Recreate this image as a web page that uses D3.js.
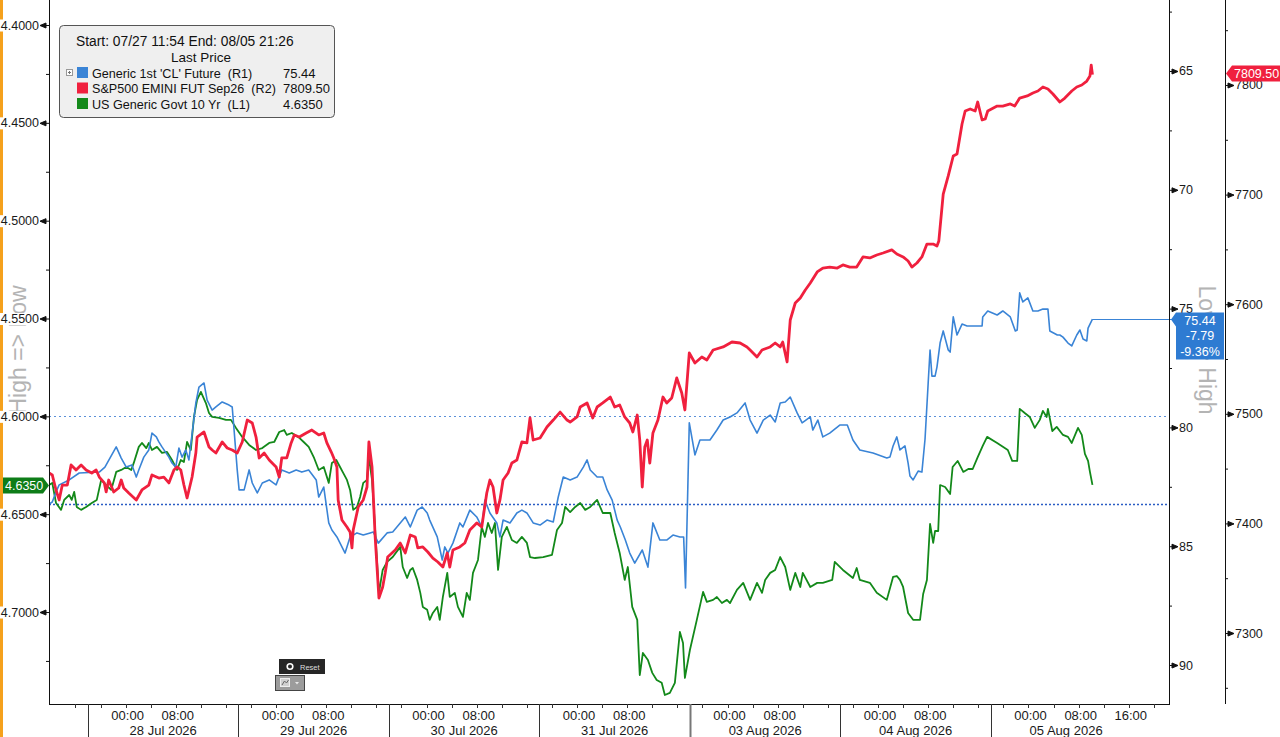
<!DOCTYPE html>
<html>
<head>
<meta charset="utf-8">
<script src="https://cdn.jsdelivr.net/npm/d3@7"></script>
<style>
  body { margin: 0; background: #fff; }
  svg { display: block; }
  text { font-family: "Liberation Sans", Arial, sans-serif; }
</style>
</head>
<body>
<div id="chart"></div>
<script>
// ---- data (x = trading hours since the 28 Jul session open, 07/27 18:00) ----
var sessionLabels = ["28 Jul 2026", "29 Jul 2026", "30 Jul 2026", "31 Jul 2026", "03 Aug 2026", "04 Aug 2026", "05 Aug 2026"];
var timeHours = [6, 14, 22];
var timeLabels = ["00:00", "08:00", "16:00"];

var l1Ticks = [4.40, 4.45, 4.50, 4.55, 4.60, 4.65, 4.70];
var l1Minor = [4.425, 4.475, 4.525, 4.575, 4.625, 4.675, 4.725];
var r1Ticks = [65, 70, 75, 80, 85, 90];
var r1Minor = [62.5, 67.5, 72.5, 77.5, 82.5, 87.5];
var r2Ticks = [7300, 7400, 7500, 7600, 7700, 7800];
var r2Minor = [7250, 7350, 7450, 7550, 7650, 7750, 7850];

// reference levels on the CL axis (start price and a user line)
var clLevels = [79.52, 83.23];

// Generic 1st 'CL' Future (R1)
var clSeries = [[-6.2,83.23],[-5.7,83.14],[-5.1,82.72],[-4.6,82.42],[-3.0,82.21],[-1.4,81.92],[1.8,81.88],[2.7,81.67],[4.5,80.82],[5.3,81.29],[6.1,81.67],[7.0,81.58],[7.7,82.09],[8.1,81.79],[8.9,81.25],[9.7,80.95],[10.2,80.24],[10.9,80.40],[11.3,80.61],[11.8,80.82],[12.9,81.25],[13.4,81.50],[14.0,81.67],[14.5,80.87],[15.0,81.25],[15.6,80.95],[16.1,81.37],[17.2,78.97],[17.7,78.30],[18.5,78.13],[19.0,78.85],[19.8,79.27],[20.4,79.14],[21.4,78.93],[22.5,79.06],[23.0,79.14],[23.3,80.11],[23.8,81.79],[24.1,82.63],[24.9,82.63],[25.7,81.79],[26.2,82.34],[27.0,82.76],[27.8,82.34],[28.9,82.21],[30.0,82.42],[30.9,81.79],[32.1,81.92],[33.2,81.79],[34.1,81.88],[35.2,81.79],[36.4,82.21],[36.8,82.93],[37.6,82.51],[38.4,84.02],[38.9,84.32],[39.7,84.61],[41.0,85.29],[41.8,84.61],[42.9,84.44],[43.9,84.53],[45.0,84.44],[45.5,84.40],[46.3,84.87],[47.7,84.44],[48.6,84.40],[49.8,84.02],[50.6,83.77],[51.4,84.19],[52.5,83.48],[53.3,83.35],[54.1,83.60],[54.5,83.90],[55.7,84.61],[56.5,85.58],[56.9,85.03],[57.4,85.29],[58.2,84.87],[59.3,84.02],[59.8,84.19],[60.9,83.48],[62.0,83.77],[62.8,84.19],[63.3,83.06],[64.1,83.60],[65.2,84.02],[65.7,84.61],[66.2,83.90],[67.3,84.02],[68.4,83.60],[69.2,83.48],[70.0,83.60],[71.0,84.02],[72.1,84.11],[73.2,83.90],[74.2,83.98],[75.0,82.93],[75.8,82.09],[76.9,82.21],[78.0,82.09],[79.0,81.67],[79.6,81.37],[80.1,81.79],[81.2,82.09],[82.1,82.09],[82.8,82.63],[83.6,83.06],[84.4,83.90],[84.9,84.19],[85.7,84.74],[86.4,85.29],[87.2,85.71],[88.4,85.16],[89.3,85.88],[90.1,84.02],[91.2,84.74],[92.3,84.74],[93.3,84.53],[94.4,84.61],[95.0,84.61],[95.3,86.76],[95.9,79.81],[96.8,81.16],[97.6,80.53],[99.2,80.53],[100.3,80.11],[101.3,79.69],[102.4,79.56],[103.5,79.39],[104.8,78.97],[105.6,79.69],[106.7,80.24],[107.7,79.69],[108.8,79.48],[109.6,79.77],[110.4,78.97],[111.2,78.93],[112.0,78.72],[113.1,79.39],[113.9,79.81],[115.2,79.56],[115.6,80.11],[116.4,79.69],[117.2,80.40],[118.3,80.24],[119.9,79.90],[121.1,79.90],[122.0,80.53],[123.1,80.95],[125.2,81.08],[127.4,81.29],[127.9,81.25],[128.4,80.78],[129.0,80.40],[129.5,80.95],[130.3,80.78],[130.8,81.50],[131.1,82.05],[131.6,82.21],[132.4,81.84],[133.0,81.88],[133.5,80.49],[134.0,78.13],[134.3,76.74],[134.6,77.84],[135.1,77.84],[135.4,77.46],[135.9,76.45],[136.4,75.94],[137.2,76.74],[137.5,76.83],[138.0,75.35],[138.6,76.11],[139.4,75.65],[140.2,75.73],[140.7,75.73],[142.6,75.73],[142.7,75.35],[143.5,75.10],[145.0,75.27],[145.9,75.10],[147.1,75.35],[147.9,75.94],[148.2,75.90],[148.6,74.34],[149.1,74.72],[149.9,74.55],[150.7,75.10],[151.5,75.10],[152.3,75.02],[153.1,75.02],[153.4,75.94],[154.6,76.11],[155.0,76.11],[155.5,76.20],[156.3,76.45],[156.9,76.57],[157.7,76.11],[158.2,75.90],[158.7,76.28],[159.3,76.36],[159.5,75.82],[160.2,75.44]];

// S&P500 EMINI FUT Sep26 (R2)
var esSeries = [[-6.2,7446.0],[-5.7,7444.2],[-5.1,7430.5],[-4.6,7421.4],[-4.1,7435.0],[-3.3,7435.0],[-2.7,7453.3],[-1.9,7448.7],[-1.1,7453.3],[-0.3,7448.7],[0.6,7446.0],[1.3,7448.7],[1.8,7442.3],[2.6,7436.9],[2.9,7428.7],[3.3,7439.6],[4.1,7428.7],[4.9,7432.3],[5.3,7439.6],[5.7,7432.3],[6.5,7427.7],[7.7,7421.4],[8.6,7430.5],[9.7,7435.0],[10.2,7444.2],[11.3,7441.4],[12.1,7442.3],[12.9,7436.9],[13.7,7448.7],[14.2,7451.5],[14.8,7448.7],[15.3,7435.0],[15.8,7423.2],[16.6,7442.3],[17.2,7464.2],[17.4,7478.8],[18.5,7483.4],[19.3,7469.7],[19.8,7467.0],[20.4,7464.2],[21.4,7474.3],[22.2,7468.8],[23.0,7467.0],[23.8,7464.2],[24.6,7474.3],[25.4,7494.3],[26.2,7491.6],[26.8,7478.8],[27.3,7459.7],[28.1,7464.2],[28.9,7457.8],[30.0,7451.5],[30.5,7442.3],[30.9,7459.7],[31.7,7459.7],[32.4,7473.4],[32.9,7480.7],[33.7,7478.8],[34.8,7482.5],[35.7,7485.2],[36.8,7480.7],[37.6,7482.5],[38.1,7473.4],[38.8,7465.1],[39.2,7459.7],[39.7,7451.5],[39.9,7421.4],[40.5,7403.1],[41.3,7396.7],[41.8,7392.2],[42.1,7377.6],[42.3,7394.0],[43.1,7415.0],[43.9,7421.4],[44.5,7433.2],[44.8,7474.3],[45.3,7451.5],[45.8,7387.6],[46.4,7331.9],[47.0,7342.0],[47.4,7354.7],[47.8,7369.3],[49.0,7375.7],[49.8,7382.1],[50.6,7373.0],[51.4,7389.4],[52.2,7387.6],[52.6,7377.6],[53.4,7378.5],[54.2,7373.9],[55.0,7368.4],[55.8,7364.8],[56.6,7360.2],[57.3,7373.0],[57.7,7360.2],[58.2,7375.7],[59.3,7378.5],[60.1,7382.1],[60.9,7394.0],[62.0,7400.4],[62.8,7396.7],[63.6,7427.7],[64.1,7439.6],[64.6,7433.2],[65.2,7409.5],[65.7,7421.4],[66.2,7439.6],[67.0,7446.0],[67.6,7455.1],[68.4,7457.8],[69.2,7474.3],[70.0,7473.4],[70.5,7496.2],[71.0,7476.1],[72.1,7477.9],[73.2,7488.0],[74.2,7494.3],[75.3,7501.6],[76.4,7494.3],[76.9,7492.5],[78.0,7497.1],[78.5,7506.2],[79.6,7509.9],[80.5,7496.2],[81.2,7506.2],[82.1,7509.9],[83.3,7515.3],[84.0,7506.2],[84.8,7508.0],[85.6,7497.1],[86.4,7491.6],[86.9,7483.4],[87.6,7498.9],[88.0,7476.1],[88.4,7433.2],[88.8,7469.7],[89.2,7476.1],[89.6,7455.1],[90.1,7482.5],[90.9,7494.3],[91.7,7515.3],[92.3,7509.9],[93.1,7514.4],[93.9,7532.7],[94.7,7519.0],[95.2,7503.5],[95.9,7555.5],[96.8,7546.4],[97.9,7551.8],[98.7,7549.1],[99.7,7558.2],[101.3,7561.0],[102.7,7565.5],[104.0,7564.6],[105.1,7561.0],[105.6,7558.2],[106.7,7551.8],[107.5,7558.2],[108.8,7561.0],[109.6,7564.6],[110.4,7561.0],[110.8,7565.5],[111.5,7547.3],[112.0,7585.6],[112.8,7601.1],[113.6,7605.7],[114.4,7613.0],[115.2,7619.3],[116.3,7629.4],[117.2,7633.0],[118.3,7633.9],[119.5,7633.0],[120.4,7635.8],[121.5,7633.9],[122.6,7633.9],[123.6,7643.1],[124.7,7642.2],[125.8,7644.9],[126.8,7646.7],[128.2,7649.5],[129.0,7645.8],[130.0,7643.1],[130.8,7639.4],[131.4,7633.9],[132.2,7637.6],[133.0,7643.1],[133.8,7654.9],[134.8,7654.9],[135.4,7653.1],[135.7,7657.7],[136.4,7700.5],[137.2,7717.0],[138.0,7735.2],[138.6,7737.0],[139.4,7764.4],[139.9,7776.3],[140.7,7778.1],[141.5,7776.3],[141.9,7784.5],[142.6,7768.1],[143.1,7769.0],[143.5,7776.3],[145.0,7780.8],[145.9,7780.8],[147.1,7782.7],[147.8,7780.8],[148.6,7788.1],[149.8,7790.0],[150.7,7792.7],[151.5,7794.5],[152.3,7798.2],[153.1,7796.4],[153.9,7791.8],[155.0,7784.5],[155.8,7788.1],[156.9,7794.5],[157.7,7798.2],[158.5,7800.0],[159.3,7803.6],[159.8,7808.2],[160.0,7818.2],[160.2,7809.5]];

// US Generic Govt 10 Yr (L1)
var ustSeries = [[-6.2,4.6351],[-5.7,4.6340],[-5.1,4.6443],[-4.3,4.6478],[-3.8,4.6427],[-3.0,4.6402],[-2.6,4.6427],[-2.2,4.6386],[-1.8,4.6463],[-1.1,4.6478],[-0.3,4.6463],[0.6,4.6443],[1.4,4.6427],[2.1,4.6325],[2.9,4.6351],[3.7,4.6376],[4.5,4.6284],[5.3,4.6274],[6.1,4.6259],[6.9,4.6274],[7.3,4.6238],[8.1,4.6156],[8.6,4.6136],[9.3,4.6162],[9.7,4.6136],[10.2,4.6172],[11.0,4.6156],[11.8,4.6187],[12.6,4.6182],[13.4,4.6223],[14.2,4.6274],[14.8,4.6223],[15.3,4.6233],[15.8,4.6131],[16.4,4.6172],[16.9,4.6003],[17.4,4.5916],[18.0,4.5875],[18.8,4.5932],[19.3,4.5983],[19.8,4.6003],[20.9,4.6008],[22.0,4.6018],[22.8,4.6018],[23.6,4.6059],[24.6,4.6105],[25.7,4.6146],[26.8,4.6172],[27.8,4.6162],[28.9,4.6136],[29.7,4.6131],[30.5,4.6080],[31.3,4.6070],[31.7,4.6095],[32.5,4.6085],[33.7,4.6110],[34.4,4.6131],[35.2,4.6156],[36.0,4.6208],[36.8,4.6274],[37.6,4.6259],[38.4,4.6340],[38.9,4.6238],[39.6,4.6223],[40.2,4.6259],[40.7,4.6289],[41.3,4.6325],[41.8,4.6376],[42.3,4.6478],[42.9,4.6463],[43.4,4.6412],[43.9,4.6340],[44.5,4.6325],[44.8,4.6208],[45.3,4.6325],[45.8,4.6581],[46.4,4.6902],[47.0,4.6785],[47.7,4.6744],[48.6,4.6719],[49.8,4.6667],[50.2,4.6770],[50.9,4.6826],[51.4,4.6785],[51.8,4.6775],[52.5,4.6836],[53.0,4.6902],[53.4,4.6974],[54.1,4.6989],[54.5,4.7040],[55.0,4.7005],[55.7,4.6974],[56.1,4.7040],[56.6,4.6923],[57.3,4.6800],[57.7,4.6923],[58.5,4.6902],[59.0,4.6974],[59.8,4.7025],[60.4,4.6902],[60.9,4.6938],[61.4,4.6800],[62.2,4.6734],[62.8,4.6565],[63.3,4.6616],[63.8,4.6545],[64.4,4.6596],[64.9,4.6545],[65.4,4.6785],[66.0,4.6616],[66.8,4.6565],[67.6,4.6632],[68.4,4.6647],[69.2,4.6616],[70.0,4.6647],[70.5,4.6719],[71.3,4.6724],[72.6,4.6719],[74.0,4.6708],[74.8,4.6581],[75.6,4.6545],[76.1,4.6463],[76.9,4.6489],[77.7,4.6463],[78.5,4.6443],[79.3,4.6478],[80.1,4.6463],[81.2,4.6427],[82.1,4.6494],[83.3,4.6494],[84.0,4.6596],[84.8,4.6698],[85.6,4.6836],[86.1,4.6770],[86.8,4.6974],[87.6,4.7040],[88.0,4.7322],[88.5,4.7209],[89.3,4.7245],[90.0,4.7311],[90.7,4.7347],[91.5,4.7362],[92.0,4.7424],[92.8,4.7413],[93.6,4.7362],[94.4,4.7102],[94.9,4.7158],[95.2,4.7337],[96.0,4.7194],[97.1,4.7040],[98.1,4.6897],[98.7,4.6948],[99.7,4.6938],[100.3,4.6923],[101.1,4.6954],[101.9,4.6938],[102.4,4.6954],[103.5,4.6887],[104.5,4.6851],[105.6,4.6938],[106.7,4.6851],[107.5,4.6902],[108.0,4.6836],[108.8,4.6800],[109.6,4.6785],[110.4,4.6719],[111.2,4.6770],[112.0,4.6887],[112.8,4.6800],[113.6,4.6872],[114.0,4.6800],[115.2,4.6872],[116.3,4.6851],[117.2,4.6851],[118.7,4.6836],[119.1,4.6744],[120.4,4.6785],[122.0,4.6826],[122.6,4.6775],[123.1,4.6836],[124.7,4.6851],[125.8,4.6902],[127.4,4.6938],[128.4,4.6821],[129.0,4.6816],[129.5,4.6836],[130.0,4.6872],[130.8,4.7005],[131.6,4.7040],[132.7,4.7040],[133.2,4.6908],[133.8,4.6836],[134.3,4.6550],[134.8,4.6647],[135.1,4.6586],[135.6,4.6586],[135.9,4.6351],[136.7,4.6361],[137.5,4.6397],[137.9,4.6259],[138.7,4.6228],[139.6,4.6284],[140.4,4.6269],[141.1,4.6269],[141.9,4.6208],[142.7,4.6151],[143.4,4.6105],[145.0,4.6136],[146.7,4.6172],[147.4,4.6228],[148.2,4.6228],[148.6,4.5962],[149.4,4.5983],[150.2,4.6003],[151.0,4.6059],[151.8,4.6018],[152.3,4.5972],[152.9,4.6003],[153.1,4.5962],[153.8,4.6075],[154.5,4.6054],[155.5,4.6095],[156.3,4.6105],[156.9,4.6136],[157.9,4.6059],[158.5,4.6095],[159.0,4.6192],[159.5,4.6228],[159.8,4.6284],[160.2,4.6350]];

var seriesNames = ["Generic 1st 'CL' Future  (R1)", "S&P500 EMINI FUT Sep26  (R2)", "US Generic Govt 10 Yr  (L1)"];
var lastValues = ["75.44", "7809.50", "4.6350"];
var clChange = ["75.44", "-7.79", "-9.36%"];

// ---- layout ----
var W = 1280, H = 737;
var plotL = 49, plotR = 1169, plotB = 704, r2X = 1225;
var blue = "#3a84d6", red = "#f0203e", green = "#13891a";

var svg = d3.select("#chart").append("svg")
    .attr("width", W)
    .attr("height", H);

// scales (yield and CL axes inverted, as on the terminal)
var x = d3.scaleLinear().domain([-6.22, 172.25]).range([plotL, plotR - 1]);
var yL = d3.scaleLinear().domain([4.38722, 4.74701]).range([0, plotB]);
var yR1 = d3.scaleLinear().domain([62.012, 91.641]).range([0, plotB]);
var yR2 = d3.scaleLinear().domain([7877.55, 7235.22]).range([0, plotB]);

// orange focus strip on the left edge
svg.append("rect").attr("x", 0).attr("y", 0).attr("width", 3).attr("height", H).attr("fill", "#f5a11c");

// rotated axis titles (drawn first, labels sit over them)
svg.append("text")
    .attr("transform", "translate(18,350) rotate(-90)")
    .attr("text-anchor", "middle")
    .attr("dominant-baseline", "central")
    .attr("font-size", 23)
    .attr("fill", "#b4b4b4")
    .text("High => Low");

svg.append("text")
    .attr("transform", "translate(1207,350) rotate(90)")
    .attr("text-anchor", "middle")
    .attr("dominant-baseline", "central")
    .attr("font-size", 23)
    .attr("fill", "#b4b4b4")
    .text("Low => High");

// dotted reference lines
var levelStyle = [{ c: "#5b90d8", w: 1, d: "2,3" }, { c: "#2a5cc4", w: 1.4, d: "2,2" }];
svg.selectAll(".level")
    .data(clLevels)
    .enter()
    .append("line")
    .attr("x1", plotL).attr("x2", plotR)
    .attr("y1", d => Math.round(yR1(d)) + 0.5)
    .attr("y2", d => Math.round(yR1(d)) + 0.5)
    .attr("stroke", (d, i) => levelStyle[i].c)
    .attr("stroke-width", (d, i) => levelStyle[i].w)
    .attr("stroke-dasharray", (d, i) => levelStyle[i].d);

// series lines
svg.append("clipPath").attr("id", "plot")
    .append("rect").attr("x", plotL).attr("y", 0).attr("width", plotR - plotL).attr("height", plotB);

var plot = svg.append("g").attr("clip-path", "url(#plot)");

function drawLine(data, yScale, color, width) {
    plot.append("path")
        .datum(data)
        .attr("fill", "none")
        .attr("stroke", color)
        .attr("stroke-width", width)
        .attr("stroke-linejoin", "round")
        .attr("d", d3.line().x(d => x(d[0])).y(d => yScale(d[1])));
}
drawLine(ustSeries, yL, green, 1.8);
drawLine(clSeries, yR1, blue, 1.6);
drawLine(esSeries, yR2, red, 2.8);

// last CL price extended to its axis
var clLast = clSeries[clSeries.length - 1];
svg.append("line")
    .attr("x1", x(clLast[0])).attr("x2", plotR + 3)
    .attr("y1", Math.round(yR1(clLast[1])) + 0.5).attr("y2", Math.round(yR1(clLast[1])) + 0.5)
    .attr("stroke", blue).attr("stroke-width", 1);

// ---- axes ----
function styleAxis(g, side) {
    g.select(".domain").remove();
    g.selectAll("text").attr("font-size", 12.5).attr("fill", "#1a1a1a");
    var s = side === "left" ? -1 : 1;
    g.selectAll(".tick").append("path")
        .attr("d", `M0,0H${3 * s}M${3 * s},-2.5L${3 * s},2.5L${9 * s},0Z`)
        .attr("stroke", "#111").attr("fill", "#111").attr("stroke-width", 1);
    // white patch behind the labels
    g.selectAll(".tick").each(function () {
        var t = d3.select(this).select("text");
        var b = t.node().getBBox();
        d3.select(this).insert("rect", "text")
            .attr("x", b.x - 1).attr("y", b.y + 1)
            .attr("width", b.width + 2).attr("height", b.height - 2)
            .attr("fill", "#fff");
    });
}

function minorAxis(axis, pos) {
    var g = svg.append("g").attr("transform", `translate(${pos},0)`).call(axis);
    g.select(".domain").remove();
    g.selectAll("line").attr("stroke", "#111");
}

var gL = svg.append("g").attr("transform", `translate(${plotL},0)`)
    .call(d3.axisLeft(yL).tickValues(l1Ticks).tickSize(0).tickPadding(10).tickFormat(d3.format(".4f")));
styleAxis(gL, "left");
minorAxis(d3.axisLeft(yL).tickValues(l1Minor).tickSize(3).tickFormat(""), plotL);

var gR1 = svg.append("g").attr("transform", `translate(${plotR},0)`)
    .call(d3.axisRight(yR1).tickValues(r1Ticks).tickSize(0).tickPadding(10).tickFormat(d3.format("d")));
styleAxis(gR1, "right");
minorAxis(d3.axisRight(yR1).tickValues(r1Minor).tickSize(3).tickFormat(""), plotR);

var gR2 = svg.append("g").attr("transform", `translate(${r2X},0)`)
    .call(d3.axisRight(yR2).tickValues(r2Ticks).tickSize(0).tickPadding(10).tickFormat(d3.format("d")));
styleAxis(gR2, "right");
minorAxis(d3.axisRight(yR2).tickValues(r2Minor).tickSize(3).tickFormat(""), r2X);

// frame lines
svg.append("line").attr("x1", plotL + 0.5).attr("x2", plotL + 0.5).attr("y1", 0).attr("y2", plotB).attr("stroke", "#111");
svg.append("line").attr("x1", plotR + 0.5).attr("x2", plotR + 0.5).attr("y1", 0).attr("y2", plotB).attr("stroke", "#111");
svg.append("line").attr("x1", r2X + 0.5).attr("x2", r2X + 0.5).attr("y1", 0).attr("y2", plotB).attr("stroke", "#111");
svg.append("line").attr("x1", plotL).attr("x2", plotR + 1).attr("y1", plotB + 0.5).attr("y2", plotB + 0.5).attr("stroke", "#111");

// time axis: session separators, 4h ticks, hour and date labels
var xAxis = svg.append("g");
var sessionStart = sessionLabels.map((d, i) => i * 24);

xAxis.selectAll(".sep")
    .data(sessionStart)
    .enter()
    .append("line")
    .attr("x1", d => Math.round(x(d)) + 0.5).attr("x2", d => Math.round(x(d)) + 0.5)
    .attr("y1", plotB).attr("y2", H)
    .attr("stroke", (d, i) => i === 4 ? "#777" : "#333")
    .attr("stroke-width", (d, i) => i === 4 ? 2 : 1);

xAxis.selectAll(".hr")
    .data(d3.range(-2, 172, 4))
    .enter()
    .append("line")
    .attr("x1", d => Math.round(x(d)) + 0.5).attr("x2", d => Math.round(x(d)) + 0.5)
    .attr("y1", plotB).attr("y2", plotB + 4)
    .attr("stroke", "#333");

sessionLabels.forEach(function (label, i) {
    var s0 = sessionStart[i];
    timeHours.forEach(function (h, j) {
        var cx = x(s0 + h) + 2;
        var next = i < sessionLabels.length - 1 ? x(s0 + 24) : plotR;
        if (cx + 18 > next) return;
        xAxis.append("text")
            .attr("x", cx).attr("y", 720)
            .attr("text-anchor", "middle")
            .attr("font-size", 13).attr("fill", "#1a1a1a")
            .text(timeLabels[j]);
    });
    xAxis.append("text")
        .attr("x", x(s0 + 12)).attr("y", 735)
        .attr("text-anchor", "middle")
        .attr("font-size", 13).attr("fill", "#1a1a1a")
        .text(label);
});

// ---- last value tags ----
var yb = Math.round(yR1(clLast[1])) + 0.5;
svg.append("path")
    .attr("d", `M1171,${yb}L1176,${yb - 7}H1224V${yb + 40}H1176V${yb + 7}Z`)
    .attr("fill", "#2e7bd2");
clChange.forEach(function (t, i) {
    svg.append("text")
        .attr("x", 1200).attr("y", yb + 5 + i * 15.5)
        .attr("text-anchor", "middle")
        .attr("font-size", 12.5).attr("fill", "#fff")
        .text(t);
});

var yr = Math.round(yR2(+lastValues[1])) - 1.5;
svg.append("path")
    .attr("d", `M1226,${yr}L1232,${yr - 8}H1282V${yr + 8}H1232Z`)
    .attr("fill", red);
svg.append("text")
    .attr("x", 1234).attr("y", yr + 4.5)
    .attr("font-size", 12.5).attr("fill", "#fff")
    .text(lastValues[1]);

var yg = Math.round(yL(+lastValues[2])) + 0.5;
svg.append("path")
    .attr("d", `M3,${yg - 8}H43L49,${yg}L43,${yg + 8}H3Z`)
    .attr("fill", "#0e7d18");
svg.append("text")
    .attr("x", 5).attr("y", yg + 4.5)
    .attr("font-size", 12.5).attr("fill", "#fff")
    .text(lastValues[2]);

// ---- legend ----
var legend = svg.append("g");
legend.append("rect")
    .attr("x", 59.5).attr("y", 25.5).attr("width", 275).attr("height", 92).attr("rx", 4)
    .attr("fill", "#efefef").attr("stroke", "#555");
legend.append("text")
    .attr("x", 76).attr("y", 46)
    .attr("font-size", 13.8).attr("fill", "#111")
    .text("Start: 07/27 11:54 End: 08/05 21:26");
legend.append("text")
    .attr("x", 201).attr("y", 62)
    .attr("text-anchor", "middle")
    .attr("font-size", 13.5).attr("fill", "#111")
    .text("Last Price");

var swatch = [blue, red, green];
seriesNames.forEach(function (name, i) {
    var ry = 67 + i * 15.5;
    legend.append("rect").attr("x", 77).attr("y", ry).attr("width", 11).attr("height", 11).attr("fill", swatch[i]);
    legend.append("text")
        .attr("x", 92).attr("y", ry + 10.5)
        .attr("font-size", 12.6).attr("fill", "#111")
        .style("white-space", "pre")
        .text(name);
    legend.append("text")
        .attr("x", 283).attr("y", ry + 10.5)
        .attr("font-size", 13).attr("fill", "#111")
        .text(lastValues[i]);
});
// expand icon
legend.append("rect").attr("x", 66.5).attr("y", 69.5).attr("width", 6).attr("height", 6).attr("fill", "#fff").attr("stroke", "#999");
legend.append("path").attr("d", "M68,72.5H71M69.5,71V74").attr("stroke", "#777");

// reset widget
svg.append("rect").attr("x", 279).attr("y", 659).attr("width", 46).attr("height", 15).attr("fill", "#262626");
svg.append("circle").attr("cx", 290).attr("cy", 666.5).attr("r", 2.8).attr("fill", "none").attr("stroke", "#fff").attr("stroke-width", 1.6);
svg.append("text").attr("x", 300).attr("y", 669.5).attr("font-size", 7.5).attr("fill", "#ddd").text("Reset");
svg.append("rect").attr("x", 275.5).attr("y", 675.5).attr("width", 29).attr("height", 15).attr("fill", "#9c9c9c").attr("stroke", "#444");
svg.append("rect").attr("x", 280.5).attr("y", 678.5).attr("width", 9).attr("height", 8).attr("fill", "#d0d0d0").attr("stroke", "#eee");
svg.append("path").attr("d", "M282,685L284.5,681L286.5,683L288.5,680").attr("fill", "none").attr("stroke", "#666");
svg.append("path").attr("d", "M295,682H299L297,684.5Z").attr("fill", "#e8e8e8");
</script>
</body>
</html>
